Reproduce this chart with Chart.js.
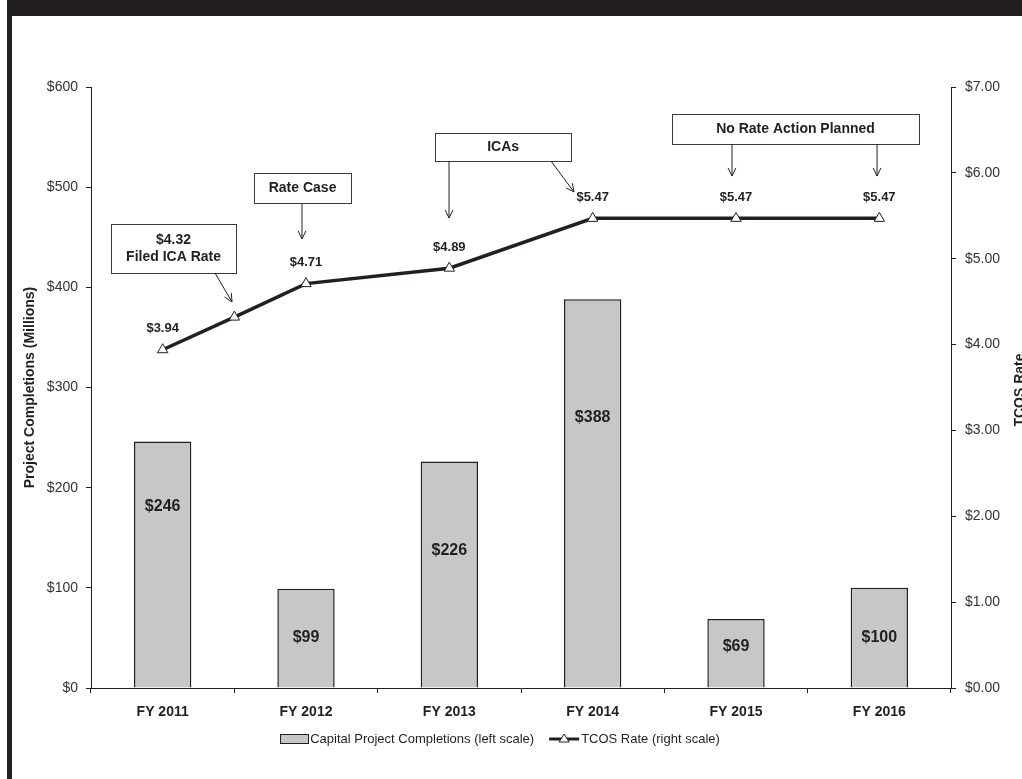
<!DOCTYPE html>
<html>
<head>
<meta charset="utf-8">
<script src="https://cdn.jsdelivr.net/npm/chart.js@4.4.0/dist/chart.umd.min.js"></script>
<style>
  html, body { margin: 0; padding: 0; background: #fff; overflow: hidden; }
  #wrap { position: relative; width: 1022px; height: 779px; }
  #topBand { position: absolute; left: 7px; top: 0; width: 1015px; height: 16px; background: #231f20; }
  #leftBand { position: absolute; left: 7px; top: 0; width: 5px; height: 779px; background: #231f20; }
  canvas { position: absolute; left: 0; top: 0; }
</style>
</head>
<body>
<div id="wrap">
  <canvas id="tcosChart" width="1022" height="779"></canvas>
  <div id="topBand"></div>
  <div id="leftBand"></div>
</div>
<script>
// data
const fiscalYears = ["FY 2011", "FY 2012", "FY 2013", "FY 2014", "FY 2015", "FY 2016"];
const completions = [246, 99, 226, 388, 69, 100];
const rateYears = [2011, 2011.5, 2012, 2013, 2014, 2015, 2016];
const rateValues = [3.94, 4.32, 4.71, 4.89, 5.47, 5.47, 5.47];
const rateLabelShown = [true, false, true, true, true, true, true];

const FONT = '"Liberation Sans", Arial, sans-serif';
const INK = "#231f20";

// where the bar value labels sit (left-scale value)
const barLabelAt = [181, 50, 137, 270, 41, 50];

// callout boxes, placed in (fiscal year, rate) coordinates
const callouts = [
  { lines: ["$4.32", "Filed ICA Rate"], at: [2011.076, 5.119], w: 125, h: 49,
    arrows: [[2011.365, 4.834, 2011.484, 4.496]] },
  { lines: ["Rate Case"], at: [2011.976, 5.824], w: 97, h: 30,
    arrows: [[2011.972, 5.649, 2011.972, 5.23]] },
  { lines: ["ICAs"], at: [2013.375, 6.301], w: 136, h: 28,
    arrows: [[2012.998, 6.138, 2012.998, 5.474], [2013.709, 6.138, 2013.87, 5.777]] },
  { lines: ["No Rate Action Planned"], at: [2015.415, 6.511], w: 247, h: 30,
    arrows: [[2014.972, 6.336, 2014.972, 5.963], [2015.984, 6.336, 2015.984, 5.963]] }
];

const drawArrow = (ctx, x1, y1, x2, y2) => {
  const ang = Math.atan2(y2 - y1, x2 - x1);
  const len = 9, spread = 0.45;
  ctx.beginPath();
  ctx.moveTo(x1, y1);
  ctx.lineTo(x2, y2);
  ctx.moveTo(x2 - len * Math.cos(ang - spread), y2 - len * Math.sin(ang - spread));
  ctx.lineTo(x2, y2);
  ctx.lineTo(x2 - len * Math.cos(ang + spread), y2 - len * Math.sin(ang + spread));
  ctx.stroke();
};

const overlayPlugin = {
  id: "overlay",
  afterDatasetsDraw(chart) {
    const ctx = chart.ctx;
    const y = chart.scales.y, y2 = chart.scales.y2, xl = chart.scales.xl;
    ctx.save();
    ctx.fillStyle = INK;
    ctx.textAlign = "center";
    ctx.textBaseline = "middle";

    // bar values
    ctx.font = "bold 16px " + FONT;
    chart.getDatasetMeta(0).data.forEach((bar, i) => {
      ctx.fillText("$" + completions[i], bar.x, y.getPixelForValue(barLabelAt[i]));
    });

    // rate values
    ctx.font = "bold 13px " + FONT;
    chart.getDatasetMeta(1).data.forEach((pt, i) => {
      if (rateLabelShown[i]) ctx.fillText("$" + rateValues[i].toFixed(2), pt.x, pt.y - 21);
    });

    // callouts
    ctx.font = "bold 14px " + FONT;
    ctx.lineWidth = 1;
    callouts.forEach((c) => {
      const cx = xl.getPixelForValue(c.at[0]);
      const cy = y2.getPixelForValue(c.at[1]);
      ctx.fillStyle = "#fff";
      ctx.fillRect(cx - c.w / 2, cy - c.h / 2, c.w, c.h);
      ctx.strokeStyle = "#3a3a3a";
      ctx.strokeRect(Math.round(cx - c.w / 2) + 0.5, Math.round(cy - c.h / 2) + 0.5, c.w, c.h);
      ctx.fillStyle = INK;
      const lh = 17;
      c.lines.forEach((t, k) => {
        ctx.fillText(t, cx, cy + (k - (c.lines.length - 1) / 2) * lh);
      });
      ctx.strokeStyle = INK;
      c.arrows.forEach((a) => {
        drawArrow(ctx, xl.getPixelForValue(a[0]), y2.getPixelForValue(a[1]),
          xl.getPixelForValue(a[2]), y2.getPixelForValue(a[3]));
      });
    });
    ctx.restore();
  },
  afterDraw(chart) {
    const ctx = chart.ctx;
    ctx.save();
    ctx.fillStyle = INK;

    // right axis title, clipped by the frame edge
    ctx.font = "bold 14px " + FONT;
    ctx.textAlign = "center";
    ctx.textBaseline = "alphabetic";
    ctx.translate(1024, 390);
    ctx.rotate(-Math.PI / 2);
    ctx.fillText("TCOS Rate", 0, 0);
    ctx.setTransform(1, 0, 0, 1, 0, 0);

    // legend
    ctx.font = "13px " + FONT;
    ctx.textAlign = "left";
    ctx.textBaseline = "middle";
    const t1 = "Capital Project Completions (left scale)";
    const t2 = "TCOS Rate (right scale)";
    const w1 = ctx.measureText(t1).width, w2 = ctx.measureText(t2).width;
    const total = 28 + 2 + w1 + 15 + 30 + 2 + w2;
    let lx = 500 - total / 2;
    const ly = 739;
    ctx.fillStyle = "#c6c7c9";
    ctx.fillRect(lx, ly - 4, 28, 9);
    ctx.strokeStyle = INK;
    ctx.lineWidth = 1;
    ctx.strokeRect(Math.round(lx) + 0.5, ly - 4.5, 28, 9);
    lx += 30;
    ctx.fillStyle = INK;
    ctx.fillText(t1, lx, ly);
    lx += w1 + 15;
    ctx.lineWidth = 3;
    ctx.beginPath();
    ctx.moveTo(lx, ly);
    ctx.lineTo(lx + 30, ly);
    ctx.stroke();
    ctx.lineWidth = 1;
    ctx.fillStyle = "#fff";
    ctx.beginPath();
    ctx.moveTo(lx + 15, ly - 5);
    ctx.lineTo(lx + 20, ly + 3);
    ctx.lineTo(lx + 10, ly + 3);
    ctx.closePath();
    ctx.fill();
    ctx.stroke();
    ctx.fillStyle = INK;
    ctx.fillText(t2, lx + 32, ly);
    ctx.restore();
  }
};

const tcosChart = new Chart(document.getElementById("tcosChart"), {
  type: "bar",
  data: {
    labels: fiscalYears,
    datasets: [
      {
        label: "Capital Project Completions (left scale)",
        data: completions,
        backgroundColor: "#c6c7c9",
        borderColor: INK,
        borderWidth: 1.5,
        grouped: false,
        categoryPercentage: 0.8,
        barPercentage: 0.5,
        xAxisID: "x",
        yAxisID: "y",
        order: 2
      },
      {
        type: "line",
        label: "TCOS Rate (right scale)",
        data: rateYears.map((yr, i) => ({ x: yr, y: rateValues[i] })),
        borderColor: INK,
        borderWidth: 3.5,
        pointStyle: "triangle",
        pointRadius: 6,
        pointBackgroundColor: "#fff",
        pointBorderColor: INK,
        pointBorderWidth: 1,
        xAxisID: "xl",
        yAxisID: "y2",
        order: 1
      }
    ]
  },
  options: {
    responsive: false,
    animation: false,
    layout: { padding: { top: 87, bottom: 51, left: 0, right: 0 } },
    plugins: { legend: { display: false }, tooltip: { enabled: false } },
    scales: {
      x: {
        offset: true,
        grid: { offset: true, drawOnChartArea: false, tickLength: 5, color: INK },
        border: { color: INK, width: 1 },
        ticks: { color: INK, padding: 11, font: { family: FONT, size: 14, weight: "bold" } },
        afterFit: (scale) => { scale.height = 40; }
      },
      xl: {
        type: "linear",
        display: false,
        offset: false,
        min: 2010.5,
        max: 2016.5
      },
      y: {
        position: "left",
        min: 0,
        max: 600,
        grid: { drawOnChartArea: false, tickLength: 5, color: INK },
        border: { color: INK, width: 1 },
        ticks: {
          stepSize: 100, color: "#333", padding: 8,
          font: { family: FONT, size: 14 },
          callback: (v) => "$" + v
        },
        title: {
          display: true,
          text: "Project Completions (Millions)",
          color: INK,
          font: { family: FONT, size: 14, weight: "bold" },
          padding: { top: 22, bottom: 0 }
        },
        afterFit: (scale) => { scale.width = 91; }
      },
      y2: {
        position: "right",
        min: 0,
        max: 7,
        grid: { drawOnChartArea: false, tickLength: 5, color: INK },
        border: { color: INK, width: 1 },
        ticks: {
          stepSize: 1, color: "#333", padding: 9,
          font: { family: FONT, size: 14 },
          callback: (v) => "$" + v.toFixed(2)
        },
        afterFit: (scale) => { scale.width = 71; }
      }
    }
  },
  plugins: [overlayPlugin]
});
</script>
</body>
</html>
